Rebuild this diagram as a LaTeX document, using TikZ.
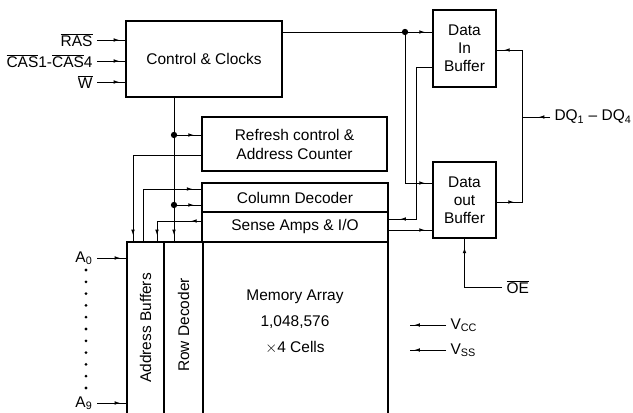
\documentclass[tikz,border=0pt]{standalone}
\usepackage{fontspec}
\setmainfont{Liberation Sans}
\usetikzlibrary{arrows.meta,decorations.markings}
\newcommand{\ovl}[1]{$\overline{\hbox{#1}}$}

\begin{document}
\begin{tikzpicture}[x=0.025cm,y=-0.025cm,
    font=\fontsize{11}{12.8}\selectfont,
    blk/.style={draw,line width=1.5pt,inner sep=2pt,align=center},
    pin/.style={inner sep=3pt},
    sig/.style={line width=0.7pt},
    arr/.style={postaction={decorate,decoration={markings,
      mark=at position #1 with {\arrow{Latex[length=4pt,width=2.6pt]}}}}},
    jdot/.style={circle,fill,inner sep=0pt,minimum size=4.5pt}]
  \useasboundingbox (0,0) rectangle (633,413);
  \clip (0,0) rectangle (633,413);

  % blocks
  \node[blk,minimum width=3.9cm,minimum height=1.9cm] (ctrl) at (204,59) {Control \& Clocks};
  \node[blk,minimum width=1.575cm,minimum height=1.925cm] (datain) at (464.5,48.5) {Data\\In\\Buffer};
  \node[blk,minimum width=1.575cm,minimum height=1.9cm] (dataout) at (464.5,200) {Data\\out\\Buffer};
  \node[blk,minimum width=4.625cm,minimum height=1.35cm,font=\fontsize{11}{13.5}\selectfont] (refresh) at (294.5,144) {Refresh control \&\\Address Counter};
  \node[blk,minimum width=4.65cm,minimum height=0.725cm] (coldec) at (295,197.5) {Column Decoder};
  \node[blk,minimum width=4.65cm,minimum height=0.75cm] (sense) at (295,227) {Sense Amps \& I/O};
  \node[blk,minimum width=0.925cm,minimum height=4.35cm] (addrbuf) at (145.5,329) {};
  \node[rotate=90] (addrtxt) at (145.5,328) {Address Buffers};
  \node[blk,minimum width=0.975cm,minimum height=4.35cm] (rowdec) at (183.5,329) {};
  \node[rotate=90] (rowtxt) at (183.5,325) {Row Decoder};
  \node[blk,minimum width=4.625cm,minimum height=4.35cm] (memarr) at (295.5,329) {};
  \node[align=center,font=\fontsize{11}{18.4}\selectfont] (memtxt) at (295,322) {Memory Array\\1,048,576\\$\times$4 Cells};

  % control inputs
  \node[pin,anchor=east] (ras) at (97,40) {\ovl{RAS}};
  \node[pin,anchor=east] (cas) at (97,61) {\ovl{CAS}1-\ovl{CAS}4};
  \node[pin,anchor=east] (we) at (97,82) {\ovl{W}};
  \foreach \n in {ras,cas,we}
    \draw[sig,arr=-4pt] (\n.east) -- (ctrl.west |- \n.east);

  % address inputs
  \node[pin,anchor=east] (a0) at (97,258) {A\textsubscript{0}};
  \node[pin,anchor=east] (a9) at (97,403) {A\textsubscript{9}};
  \foreach \n in {a0,a9}
    \draw[sig,arr=-4pt] (\n.east) -- (addrbuf.west |- \n.east);
  \foreach \k in {0,...,10}
    \fill (86,{270+\k*11.8}) circle (1.1pt);

  % internal wiring
  \node[jdot] (jr) at (174,135) {};
  \node[jdot] (jc) at (174,205) {};
  \draw[sig,arr=-4pt] (ctrl.south -| jr) -- (rowdec.north -| jr);
  \draw[sig,arr=-5pt] (jr.center) -- (refresh.west |- jr);
  \draw[sig,arr=-5pt] (jc.center) -- (coldec.west |- jc);
  \draw[sig,arr=-4pt] (refresh.west |- 0,155) -| (addrbuf.north -| 133,0);
  \draw[sig,arr=-6pt] (addrbuf.north -| 143,0) |- (coldec.west |- 0,189);
  \draw[sig,arr=7pt,arr=-4pt] (sense.west |- 0,221) -| (addrbuf.north -| 157,0);

  % data path
  \node[jdot] (jd) at (405,32) {};
  \coordinate (bend) at (416,219);
  \coordinate (jq) at (522,117);
  \draw[sig,arr=-5pt] (ctrl.east |- jd) -- (datain.west |- jd);
  \draw[sig,arr=-5pt] (jd.center) |- (dataout.west |- 0,183);
  \draw[sig,arr=-8pt] (datain.west |- 0,67) -| (bend) -- (sense.east |- bend);
  \draw[sig,arr=-5pt] (sense.east |- 0,230) -- (dataout.west |- 0,230);
  \node[pin,anchor=west] (dq) at (550,117) {DQ\textsubscript{1} -- DQ\textsubscript{4}};
  \draw[sig,arr=-5pt] (jq) |- (datain.east |- 0,50);
  \draw[sig,arr=12pt] (dataout.east |- 0,202) -| (jq);
  \draw[sig,arr=8pt] (dq.west) -- (jq);

  % output enable
  \node[pin,anchor=west] (oe) at (502,287) {\ovl{OE}};
  \draw[sig,arr=-6pt] (oe.west) -| (dataout.south);

  % supplies
  \node[pin,anchor=west] (vcc) at (446,325) {V\textsubscript{CC}};
  \node[pin,anchor=west] (vss) at (446,350) {V\textsubscript{SS}};
  \coordinate (vccend) at (410,325);
  \coordinate (vssend) at (410,350);
  \draw[sig,arr=-3pt] (vcc.west) -- (vccend);
  \draw[sig,arr=-3pt] (vss.west) -- (vssend);
\end{tikzpicture}
\end{document}
